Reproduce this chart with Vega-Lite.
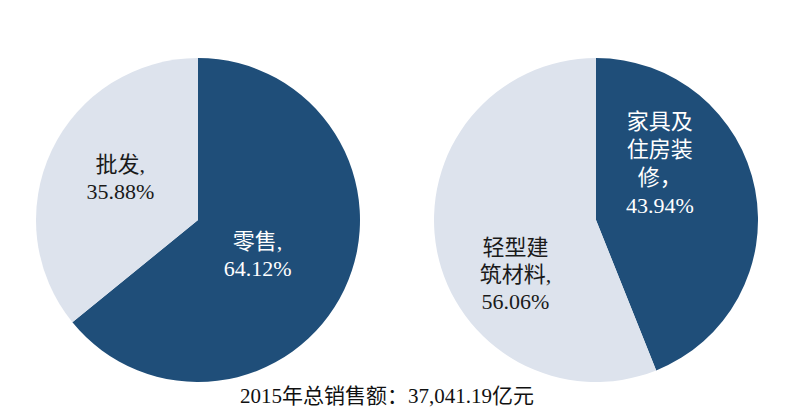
{
  "$schema": "https://vega.github.io/schema/vega-lite/v6.json",
  "padding": {"left": 36, "top": 58, "right": 0, "bottom": 0},
  "background": "white",
  "config": {"view": {"stroke": null}, "font": "Liberation Serif"},
  "datasets": {
    "pies": [
      {"pie": "left", "name": "零售", "idx": 1, "value": 64.12, "label": "零售,\n64.12%"},
      {"pie": "left", "name": "批发", "idx": 2, "value": 35.88, "label": "批发,\n35.88%"},
      {"pie": "right", "name": "家具及住房装修", "idx": 1, "value": 43.94, "label": "家具及\n住房装\n修，\n43.94%"},
      {"pie": "right", "name": "轻型建筑材料", "idx": 2, "value": 56.06, "label": "轻型建\n筑材料,\n56.06%"}
    ]
  },
  "title": {
    "text": "2015年总销售额：37,041.19亿元",
    "orient": "bottom",
    "anchor": "middle",
    "fontSize": 21,
    "font": "Liberation Serif, Noto Sans CJK SC",
    "fontWeight": "normal",
    "color": "#111111",
    "offset": 4,
    "dx": -10
  },
  "spacing": 74,
  "hconcat": [
    {
      "width": 324,
      "height": 324,
      "data": {"name": "pies"},
      "transform": [{"filter": "datum.pie === 'left'"}],
      "encoding": {
        "theta": {"field": "value", "type": "quantitative", "stack": true},
        "order": {"field": "idx", "type": "quantitative"},
        "detail": {"field": "name", "type": "nominal"}
      },
      "layer": [
        {
          "mark": {"type": "arc"},
          "encoding": {
            "color": {
              "field": "name", "type": "nominal",
              "scale": {"domain": ["零售", "批发", "家具及住房装修", "轻型建筑材料"], "range": ["#1f4e79", "#dde3ed", "#1f4e79", "#dde3ed"]},
              "legend": null
            }
          }
        },
        {
          "mark": {"type": "text", "radius": 66, "dy": -6, "fontSize": 22, "lineHeight": 27, "lineBreak": "\n", "color": "#ffffff", "font": "Liberation Serif, Noto Sans CJK SC", "align": "center", "baseline": "middle"},
          "encoding": {"text": {"condition": {"test": "datum.idx === 1", "field": "label", "type": "nominal"}, "value": ""}}
        },
        {
          "mark": {"type": "text", "radius": 86, "dy": -18, "fontSize": 22, "lineHeight": 27, "lineBreak": "\n", "color": "#1a1a1a", "font": "Liberation Serif, Noto Sans CJK SC", "align": "center", "baseline": "middle"},
          "encoding": {"text": {"condition": {"test": "datum.idx === 2", "field": "label", "type": "nominal"}, "value": ""}}
        }
      ]
    },
    {
      "width": 324,
      "height": 324,
      "data": {"name": "pies"},
      "transform": [{"filter": "datum.pie === 'right'"}],
      "encoding": {
        "theta": {"field": "value", "type": "quantitative", "stack": true},
        "order": {"field": "idx", "type": "quantitative"},
        "detail": {"field": "name", "type": "nominal"}
      },
      "layer": [
        {
          "mark": {"type": "arc"},
          "encoding": {
            "color": {
              "field": "name", "type": "nominal",
              "scale": {"domain": ["零售", "批发", "家具及住房装修", "轻型建筑材料"], "range": ["#1f4e79", "#dde3ed", "#1f4e79", "#dde3ed"]},
              "legend": null
            }
          }
        },
        {
          "mark": {"type": "text", "radius": 65, "dy": -86, "fontSize": 22, "lineHeight": 28, "lineBreak": "\n", "color": "#ffffff", "font": "Liberation Serif, Noto Sans CJK SC", "align": "center", "baseline": "middle"},
          "encoding": {"text": {"condition": {"test": "datum.idx === 1", "field": "label", "type": "nominal"}, "value": ""}}
        },
        {
          "mark": {"type": "text", "radius": 82, "dy": 12, "fontSize": 22, "lineHeight": 27, "lineBreak": "\n", "color": "#1a1a1a", "font": "Liberation Serif, Noto Sans CJK SC", "align": "center", "baseline": "middle"},
          "encoding": {"text": {"condition": {"test": "datum.idx === 2", "field": "label", "type": "nominal"}, "value": ""}}
        }
      ]
    }
  ]
}
